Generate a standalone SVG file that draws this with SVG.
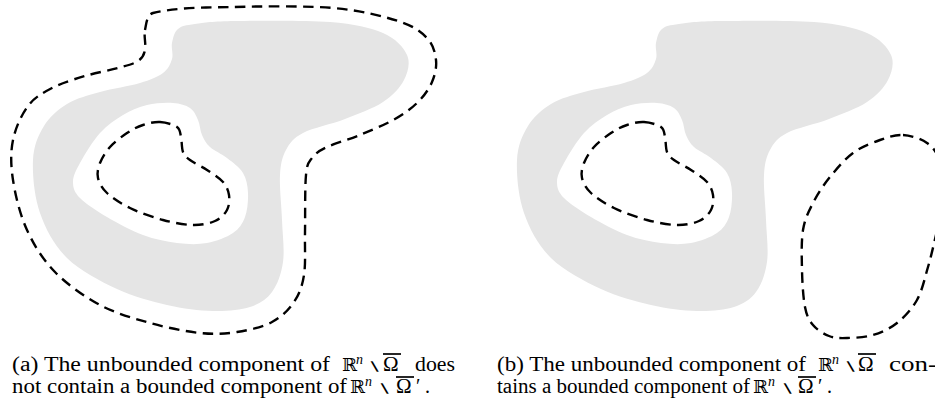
<svg xmlns="http://www.w3.org/2000/svg" width="935" height="407" viewBox="0 0 935 407">
  <style>
    .region { fill: #e5e5e5; fill-rule: evenodd; stroke: none; }
    .dash { fill: none; stroke: #000; stroke-width: 2.4; stroke-dasharray: 10.5 6.5; stroke-linejoin: round; }
    .cap text { font-family: "Liberation Serif", "Times New Roman", serif; font-size: 20px; fill: #000; }
    .cap text.bb { font-family: "DejaVu Serif", "DejaVu Sans", serif; font-size: 18px; }
    .cap text.sup { font-style: italic; font-size: 14px; }
    .cap text.sm { font-family: "DejaVu Sans", sans-serif; font-size: 15px; }
    .cap text.om { font-size: 21px; }
    .bar { stroke: #000; stroke-width: 1.7; }
  </style>
  <defs>
    <!-- shaded set with its hole, reused in both panels -->
    <path id="omega" class="region" d="M172,43 C173,38 174.2,32.2 178,29 S185.5,25.3 195,24 S212.5,21.3 235,21 S305.3,20 330,22 S370.2,27.5 383,33 S403.5,47.2 407,55 S408,72.2 404,80 S392.8,95.5 383,102 S358.3,113.8 345,119 S312.8,127.8 303,133 S289.8,143 286,150 S280.7,163.3 280,175 S281.5,205.5 282,220 S284.7,250 283,262 S277.5,284.5 272,292 S259.8,303.8 250,307 S226.8,311.3 213,311 S183,308.7 167,305 S133.7,296.8 117,289 S79.8,270.7 67,258 S45.7,229.3 40,213 S32.3,174.5 33,160 S38.3,135.3 44,126 S57.7,109.7 67,104 S87.8,95.5 100,92 S129.5,86.2 140,83 S157.7,77 163,73 S170.5,64 172,59 S171,48 172,43 Z M173,103 C180.2,103.5 185.8,105.2 190,108 S196,115.5 198,120 S200,130.5 202,135 S205.8,143.2 210,147 S221.5,153.7 227,158 S239.5,167.2 243,173 S247.7,185.7 248,193 S247.5,210.3 245,217 S239.3,228.7 233,233 S216.3,241.3 207,243 S187.7,244.3 177,243 S154.7,239.3 143,235 S117.5,223.2 107,217 S85.7,203.8 80,198 S73,187.8 73,182 S75.5,171.2 80,163 S92.8,141 100,133 S115.2,119.7 123,115 S138.7,107 147,105 S165.8,102.5 173,103 Z"/>
    <!-- dashed curve inside the hole -->
    <path id="inner" class="dash" d="M160,122 C165.7,122.3 173.5,124.5 177,127 S180,132.8 181,137 S181.5,148.2 183,152 S186,157 190,160 S201.5,166.3 207,170 S219.3,177.8 223,182 S228.3,190.3 229,195 S229.3,205.7 227,210 S220.7,218.5 215,221 S201.7,225.2 193,225 S173.5,222.8 163,220 S139.3,212.5 130,208 S112.3,198 107,193 S99.2,183 98,178 S98,168.2 100,163 S105.5,152 110,147 S121.5,136.7 127,133 S137.5,126.8 143,125 S154.3,121.7 160,122 Z"/>
  </defs>

  <!-- panel (a) -->
  <g id="panel-a">
    <g id="a-omega"><use href="#omega"/></g>
    <g id="a-inner"><use href="#inner"/></g>
    <g id="a-outer">
      <path class="dash" d="M145,30 C146.3,23.8 146.9,14.6 153,13 C178,7 206.3,7.7 233,7 S305.5,5.7 333,8 S382.3,16 398,21 S420.7,31.5 427,38 S435.2,52.7 436,60 S435,75 432,82 S424.2,95.8 418,102 S404.7,113.5 395,119 S371.3,130.3 360,135 S335,143.2 327,147 S315.5,153.3 312,158 S307.2,162.5 306,175 S305.3,216.3 305,233 S305.8,263.5 304,275 S299.3,294.2 294,302 S281.5,317 272,322 S249,330.2 237,332 S214.5,334.5 200,333 S166.7,327.7 150,323 S115.8,313.5 100,305 S67.2,284.5 55,272 S34,245.3 27,230 S15.3,195 13,180 S10.5,152.3 13,140 S21.5,114.7 28,106 S42.5,93 52,88 S74,79.3 85,76 S109.2,70.5 118,68 S133.5,64 138,61 S143.8,55.5 145,50 S143.7,36.2 145,30 Z"/>
    </g>
  </g>

  <!-- panel (b) -->
  <g id="panel-b">
    <g id="b-omega"><use href="#omega" transform="translate(484,0)"/></g>
    <g id="b-inner"><use href="#inner" transform="translate(484,0)"/></g>
    <g id="b-loop">
      <path class="dash" d="M903,135 C910.8,135.5 920.8,138.5 927,143 S937.2,152.5 940,162 S944.7,187.8 944,200 S938.7,223.8 936,235 S931.2,256.2 928,267 S922.2,290.7 917,300 S904.3,317.2 897,323 S881.3,332.5 873,335 S854.3,337.8 847,338 S834.7,338.2 829,336 S817,329.8 813,325 S806.8,316.2 805,307 S802.3,282.8 802,270 S801.2,241.2 803,230 S808.5,211.8 813,203 S823.3,185.3 830,177 S844.7,159.2 853,153 S871.7,143 880,140 S895.2,134.5 903,135 Z"/>
    </g>
  </g>

  <!-- captions -->
  <g id="caption-a" class="cap">
    <text x="12" y="371" textLength="318" lengthAdjust="spacingAndGlyphs">(a) The unbounded component of</text>
    <text x="342" y="371" class="bb">ℝ</text>
    <text x="356" y="364" class="sup">n</text>
    <text class="sm" transform="translate(366,371) scale(1.6,0.85)">∖</text>
    <text x="383" y="371" class="om">Ω</text>
    <line class="bar" x1="383" y1="354" x2="401" y2="354"/>
    <text x="415" y="371" textLength="40" lengthAdjust="spacingAndGlyphs">does</text>
    <text x="12" y="393" textLength="335" lengthAdjust="spacingAndGlyphs">not contain a bounded component of</text>
    <text x="350" y="393" class="bb">ℝ</text>
    <text x="365" y="386" class="sup">n</text>
    <text class="sm" transform="translate(376,393) scale(1.6,0.85)">∖</text>
    <text x="396" y="393" class="om">Ω</text>
    <line class="bar" x1="396" y1="377" x2="414" y2="377"/>
    <text x="416" y="393">′</text>
    <text x="425" y="393">.</text>
  </g>
  <g id="caption-b" class="cap">
    <text x="497" y="371" textLength="309" lengthAdjust="spacingAndGlyphs">(b) The unbounded component of</text>
    <text x="818" y="371" class="bb">ℝ</text>
    <text x="832" y="364" class="sup">n</text>
    <text class="sm" transform="translate(842,371) scale(1.6,0.85)">∖</text>
    <text x="858" y="371" class="om">Ω</text>
    <line class="bar" x1="858" y1="354" x2="876" y2="354"/>
    <text x="889" y="371" textLength="48" lengthAdjust="spacingAndGlyphs">con-</text>
    <text x="497" y="393" textLength="253" lengthAdjust="spacingAndGlyphs">tains a bounded component of</text>
    <text x="753" y="393" class="bb">ℝ</text>
    <text x="768" y="386" class="sup">n</text>
    <text class="sm" transform="translate(779,393) scale(1.6,0.85)">∖</text>
    <text x="798" y="393" class="om">Ω</text>
    <line class="bar" x1="798" y1="377" x2="816" y2="377"/>
    <text x="818" y="393">′</text>
    <text x="827" y="393">.</text>
  </g>
</svg>
